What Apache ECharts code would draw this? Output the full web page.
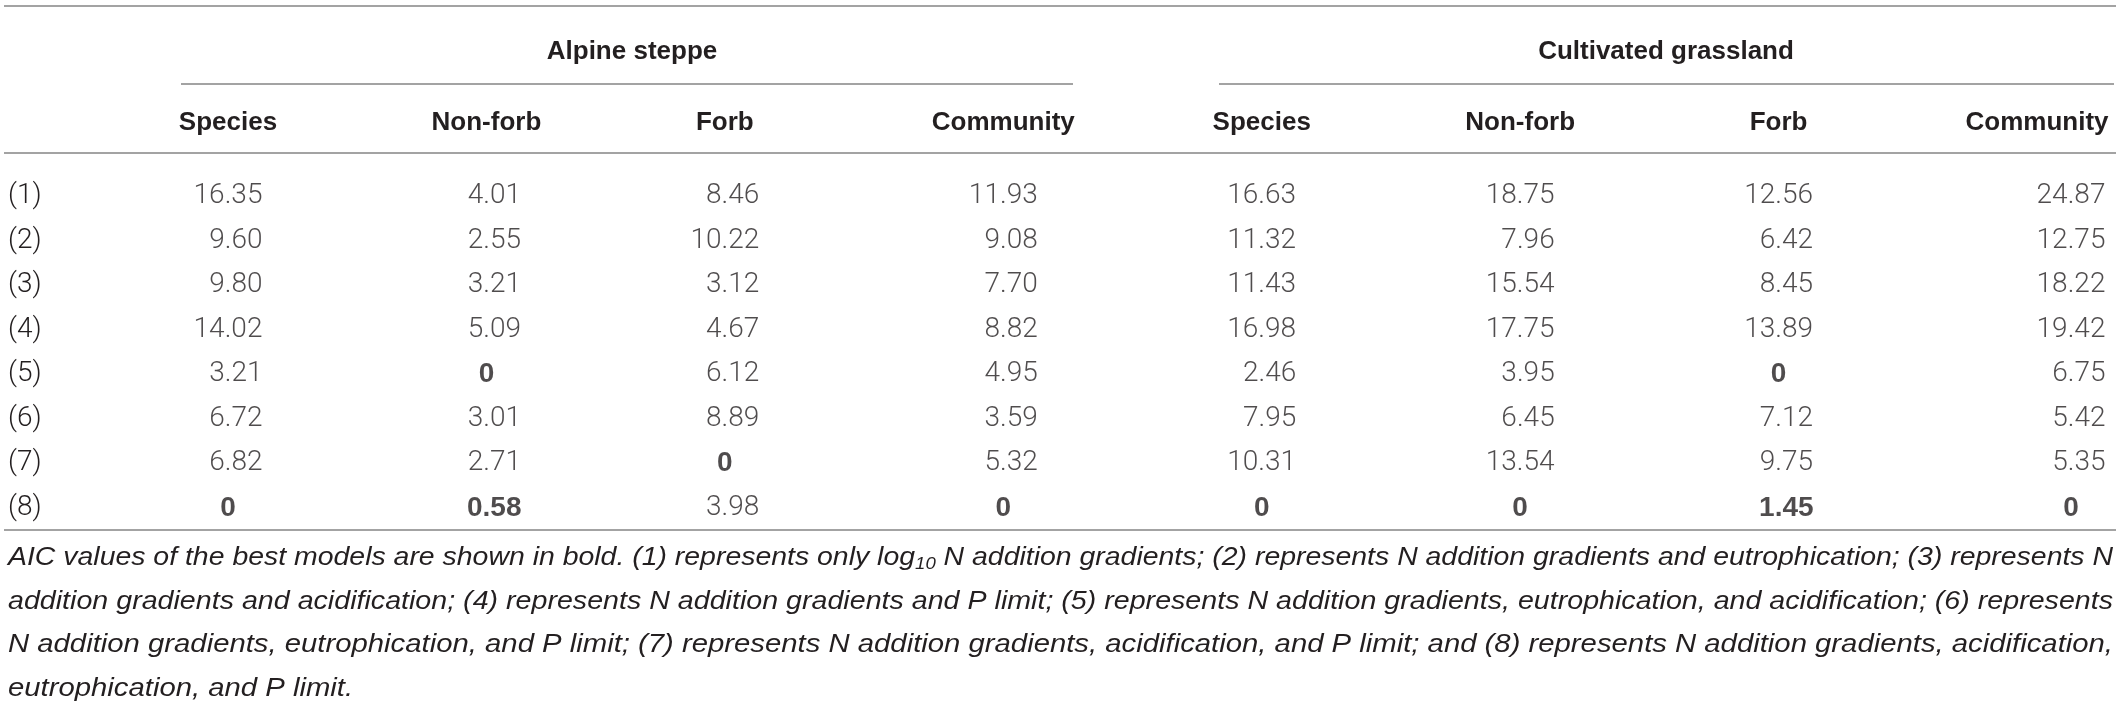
<!DOCTYPE html>
<html>
<head>
<meta charset="utf-8">
<script src="https://cdn.jsdelivr.net/npm/echarts@6/dist/echarts.min.js"></script>
<style>
  html, body { margin: 0; padding: 0; background: #fff; }
  #chart-container { width: 2120px; height: 717px; }
</style>
</head>
<body>
<div id="chart-container"></div>
<script>
// table content
const groups = ['Alpine steppe', 'Cultivated grassland'];
const headers = ['Species', 'Non-forb', 'Forb', 'Community', 'Species', 'Non-forb', 'Forb', 'Community'];
const models = ['(1)', '(2)', '(3)', '(4)', '(5)', '(6)', '(7)', '(8)'];

const alpineSpecies   = [16.35, 9.60, 9.80, 14.02, 3.21, 6.72, 6.82, 0];
const alpineNonForb   = [4.01, 2.55, 3.21, 5.09, 0, 3.01, 2.71, 0.58];
const alpineForb      = [8.46, 10.22, 3.12, 4.67, 6.12, 8.89, 0, 3.98];
const alpineCommunity = [11.93, 9.08, 7.70, 8.82, 4.95, 3.59, 5.32, 0];
const cultSpecies     = [16.63, 11.32, 11.43, 16.98, 2.46, 7.95, 10.31, 0];
const cultNonForb     = [18.75, 7.96, 15.54, 17.75, 3.95, 6.45, 13.54, 0];
const cultForb        = [12.56, 6.42, 8.45, 13.89, 0, 7.12, 9.75, 1.45];
const cultCommunity   = [24.87, 12.75, 18.22, 19.42, 6.75, 5.42, 5.35, 0];

// [column, row] of the values printed in bold (best models)
const bestCells = [[1, 4], [2, 6], [0, 7], [1, 7], [3, 7], [6, 4], [4, 7], [5, 7], [6, 7], [7, 7]];

const footnote = [
    ['AIC values of the best models are shown in bold. (1) represents only log', '10', ' N addition gradients; (2) represents N addition gradients and eutrophication; (3) represents N'],
    ['addition gradients and acidification; (4) represents N addition gradients and P limit; (5) represents N addition gradients, eutrophication, and acidification; (6) represents'],
    ['N addition gradients, eutrophication, and P limit; (7) represents N addition gradients, acidification, and P limit; and (8) represents N addition gradients, acidification,'],
    ['eutrophication, and P limit.']
];

const columns = [alpineSpecies, alpineNonForb, alpineForb, alpineCommunity,
                 cultSpecies, cultNonForb, cultForb, cultCommunity];

var dom = document.getElementById('chart-container');
var myChart = echarts.init(dom, null, { renderer: 'canvas' });

const ink = '#231f20';
const rule = '#a3a3a3';
const numFont = 'Roboto';
const headFont = '"Liberation Sans", Arial, sans-serif';
const noteFont = '"Liberation Sans", Arial, sans-serif';

function fmt(v) {
    if (v === 0) return '0';
    return (v < 10 ? '\u2007' : '') + v.toFixed(2);
}
function isBest(c, r) {
    return bestCells.some(function (b) { return b[0] === c && b[1] === r; });
}
// small nudges: the source table's columns are not evenly spaced
function colShift(c) {
    if (c === 2) return -20;
    if (c === 7) return 34;
    return 0;
}

const cells = [];
columns.forEach(function (col, c) {
    col.forEach(function (v, r) {
        const bold = isBest(c, r);
        cells.push({
            value: [c, r, v],
            label: {
                fontWeight: bold ? 'bold' : 300,
                fontFamily: bold ? headFont : numFont,
                offset: [colShift(c), 0]
            }
        });
    });
});

// justify the footnote lines to the table width
const measure = document.createElement('canvas').getContext('2d');
function textWidth(s, size) {
    measure.font = 'italic 300 ' + size + 'px ' + noteFont;
    return measure.measureText(s).width;
}
const noteSize = 26, subSize = 17;
const noteLeft = 8, noteRight = 2113;
const noteTop = 558, noteStep = 43.5;
const noteGraphics = [];
let lastScale = 1;
footnote.forEach(function (parts, i) {
    let w = textWidth(parts[0], noteSize);
    let text = '{n|' + parts[0] + '}';
    if (parts.length > 1) {
        w += textWidth(parts[1], subSize) + textWidth(parts[2], noteSize);
        text += '{s|' + parts[1] + '}{n|' + parts[2] + '}';
    }
    let sx = (noteRight - noteLeft) / w;
    if (i === footnote.length - 1) sx = lastScale;
    lastScale = sx;
    noteGraphics.push({
        type: 'text',
        x: noteLeft,
        y: noteTop + i * noteStep,
        scaleX: sx,
        style: {
            text: text,
            verticalAlign: 'middle',
            rich: {
                n: { fontSize: noteSize, fontStyle: 'italic', fontWeight: 300, fontFamily: noteFont, fill: ink, color: ink },
                s: { fontSize: subSize, fontStyle: 'italic', fontWeight: 300, fontFamily: noteFont, fill: ink, color: ink, padding: [12, 0, 0, 0] }
            }
        }
    });
});

function hline(x1, x2, y) {
    return { type: 'line', shape: { x1: x1, y1: y, x2: x2, y2: y }, style: { stroke: rule, lineWidth: 2 } };
}

const headerRich = {
    h: { fontFamily: headFont, fontWeight: 'bold', fontSize: 26, color: ink },
    hl: { fontFamily: headFont, fontWeight: 'bold', fontSize: 26, color: ink, padding: [0, 40, 0, 0] }
};

var option = {
    backgroundColor: '#fff',
    animation: false,
    grid: { left: 228, right: 83, top: 196, bottom: 209 },
    xAxis: {
        type: 'category',
        position: 'top',
        boundaryGap: false,
        data: headers.map(function (h, i) { return i; }),
        axisLine: { show: false },
        axisTick: { show: false },
        splitLine: { show: false },
        axisLabel: {
            interval: 0,
            margin: 60,
            formatter: function (v, i) {
                return (i === 2 ? '{hl|' : '{h|') + headers[i] + '}';
            },
            rich: headerRich
        }
    },
    yAxis: {
        type: 'category',
        inverse: true,
        boundaryGap: false,
        data: models,
        axisLine: { show: false },
        axisTick: { show: false },
        splitLine: { show: false },
        axisLabel: {
            interval: 0,
            align: 'left',
            margin: 220,
            fontFamily: numFont,
            fontWeight: 300,
            fontSize: 28,
            color: ink
        }
    },
    graphic: [
        hline(4, 2116, 6),
        hline(181, 1073, 84),
        hline(1219, 2114, 84),
        hline(4, 2116, 153),
        hline(4, 2116, 530),
        {
            type: 'text', x: 632, y: 52,
            style: { text: groups[0], align: 'center', verticalAlign: 'middle', font: 'bold 26px ' + headFont, fill: ink }
        },
        {
            type: 'text', x: 1666, y: 52,
            style: { text: groups[1], align: 'center', verticalAlign: 'middle', font: 'bold 26px ' + headFont, fill: ink }
        }
    ].concat(noteGraphics),
    series: [
        {
            type: 'scatter',
            symbolSize: 0,
            silent: true,
            data: cells,
            label: {
                show: true,
                position: 'inside',
                fontSize: 28,
                color: ink,
                formatter: function (p) { return fmt(p.value[2]); }
            }
        }
    ]
};

myChart.setOption(option);
window.addEventListener('resize', myChart.resize);
</script>
</body>
</html>
